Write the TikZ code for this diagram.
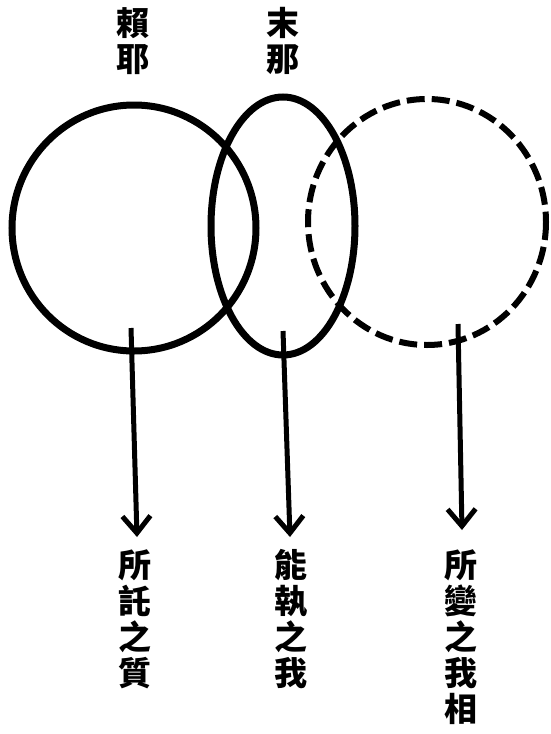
\documentclass[tikz,border=0pt]{standalone}
\usepackage{fontspec}
\newfontfamily\cjk{Noto Sans CJK TC}
\usetikzlibrary{arrows.meta}
\tikzset{
  ring/.style={line width=7pt},
  dashring/.style={line width=6pt, dash pattern=on 18pt off 7pt},
  vlabel/.style={font=\cjk\bfseries\fontsize{33}{36}\selectfont, align=center, inner sep=0pt},
  downarrow/.style={line width=5pt, -{Straight Barb[length=17pt,width=28pt]}}
}
\begin{document}
\begin{tikzpicture}[x=1pt,y=-1pt]
\useasboundingbox (0,0) rectangle (550,734);
% circles
\draw[ring] (134,228) ellipse [x radius=122, y radius=123];
\draw[ring] (283,226) ellipse [x radius=72, y radius=129];
\draw[dashring] (427,222) ellipse [x radius=119, y radius=123];
% top labels
\node[vlabel, anchor=north] (laiye) at (133,7) {賴\\耶};
\node[vlabel, anchor=north] (mona) at (283,7) {末\\那};
% bottom labels
\node[vlabel, anchor=north] (suotuo) at (135,549) {所\\託\\之\\質};
\node[vlabel, anchor=north] (nengzhi) at (291,549) {能\\執\\之\\我};
\node[vlabel, anchor=north] (suobian) at (461,549) {所\\變\\之\\我\\相};
% arrow starts
\coordinate (s1) at (131,328);
\coordinate (s2) at (283,331);
\coordinate (s3) at (458,324);
\draw[downarrow] (s1) -- (137,537) coordinate (e1);
\draw[downarrow] (s2) -- (290,537) coordinate (e2);
\draw[downarrow] (s3) -- (462,530) coordinate (e3);
\end{tikzpicture}
\end{document}
